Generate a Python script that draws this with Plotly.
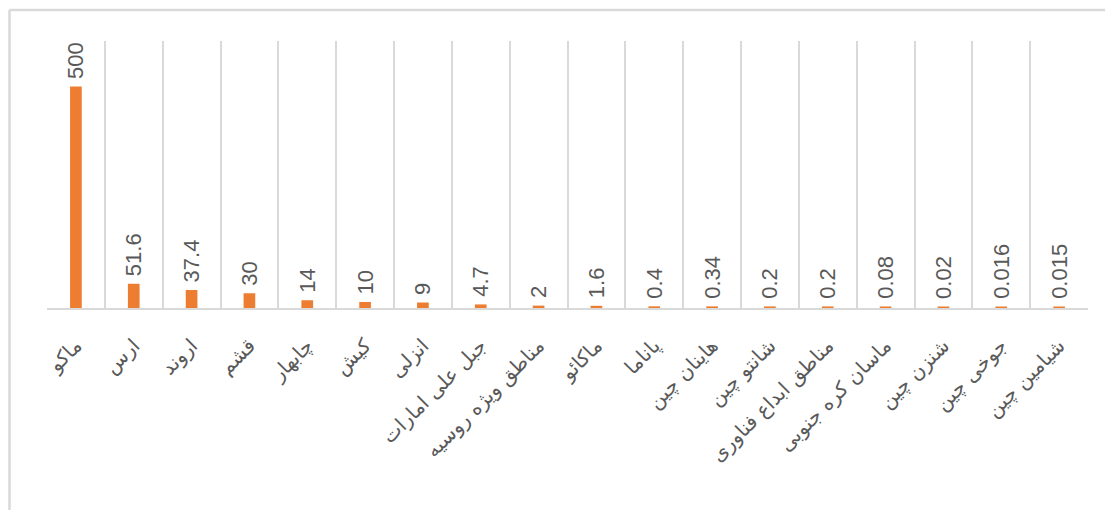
import plotly.graph_objects as go

categories = ["ماکو", "ارس", "اروند", "قشم", "چابهار", "کیش", "انزلی",
              "جبل علی امارات", "مناطق ویژه روسیه", "ماکائو", "پاناما",
              "هاینان چین", "شانتو چین", "مناطق ابداع فناوری",
              "ماسان کره جنوبی", "شنزن چین", "جوخی چین", "شیامین چین"]
values = [500, 51.6, 37.4, 30, 14, 10, 9, 4.7, 2, 1.6, 0.4, 0.34,
          0.2, 0.2, 0.08, 0.02, 0.016, 0.015]
value_labels = ["500", "51.6", "37.4", "30", "14", "10", "9", "4.7", "2",
                "1.6", "0.4", "0.34", "0.2", "0.2", "0.08", "0.02",
                "0.016", "0.015"]

# page body has an 8px margin, so figure coords = screen coords - 8
W, H = 1113, 510
L, R, T, B = 39, 33, 33, 210
pw, ph = W - L - R, H - T - B

fig = go.Figure(go.Bar(
    x=categories, y=values,
    marker=dict(color="#ED7D31", line=dict(color="#ED7D31", width=3)),
    width=0.15,
    text=["\u00a0" + v for v in value_labels],
    textposition="outside", textangle=-90, constraintext="none",
    cliponaxis=False,
    textfont=dict(family="Liberation Sans, Arial", size=22, color="#595959"),
))

fig.update_layout(
    width=W, height=H,
    margin=dict(l=L, r=R, t=T, b=B, autoexpand=False),
    paper_bgcolor="white", plot_bgcolor="white",
    showlegend=False,
    xaxis=dict(
        type="category", tickson="boundaries", showgrid=True,
        gridcolor="#d9d9d9", gridwidth=2, automargin=False,
        showline=True, linecolor="#d9d9d9", linewidth=2,
        ticks="", tickangle=-45, ticklabelstandoff=16,
        tickfont=dict(family="DejaVu Sans", size=20, color="#595959"),
    ),
    yaxis=dict(range=[0, 607], visible=False, automargin=False),
    shapes=[
        dict(type="line", xref="paper", yref="paper",
             x0=(1.5 - L) / pw, x1=(1.5 - L) / pw,
             y0=1 + (T - 2) / ph, y1=1 - (H - T) / ph,
             line=dict(color="#d9d9d9", width=2.5)),
        dict(type="line", xref="paper", yref="paper",
             x0=(1.5 - L) / pw, x1=(W - L) / pw,
             y0=1 + (T - 2) / ph, y1=1 + (T - 2) / ph,
             line=dict(color="#d9d9d9", width=2.5)),
    ],
)

fig.write_html("out.html")
